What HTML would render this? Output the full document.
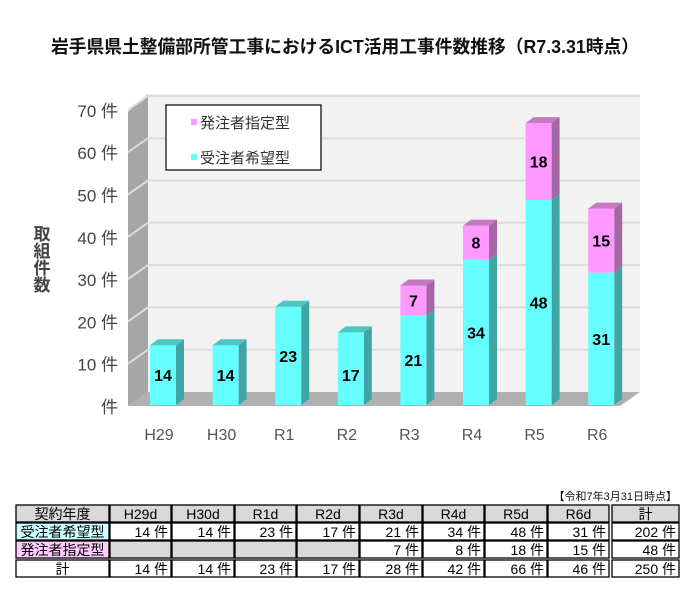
<!DOCTYPE html>
<html><head><meta charset="utf-8"><style>
body{margin:0;background:#fff;width:690px;height:614px;overflow:hidden;font-family:"Liberation Sans","Noto Sans CJK JP",sans-serif}
svg{display:block}
</style></head><body>
<svg id="chart" width="690" height="614" xmlns="http://www.w3.org/2000/svg" font-family="'Liberation Sans','Noto Sans CJK JP',sans-serif">
<text x="345" y="53" text-anchor="middle" font-size="18" font-weight="bold" textLength="588" lengthAdjust="spacingAndGlyphs" fill="#111">岩手県県土整備部所管工事におけるICT活用工事件数推移（R7.3.31時点）</text>
<g id="plot"></g>
<text x="677" y="500" text-anchor="end" font-size="11" fill="#111">【令和7年3月31日時点】</text>
<g id="table"></g>
</svg>
<script>
const categories=["H29","H30","R1","R2","R3","R4","R5","R6"];
const juchu=[14,14,23,17,21,34,48,31];
const hatchu=[0,0,0,0,7,8,18,15];
const yTicks=[0,10,20,30,40,50,60,70];
const NS="http://www.w3.org/2000/svg";
const plot=document.getElementById('plot');
function mk(tag,attrs,parent,txt){const e=document.createElementNS(NS,tag);for(const k in attrs)e.setAttribute(k,attrs[k]);if(txt!==undefined)e.textContent=txt;(parent||plot).appendChild(e);return e;}
const DX=20,DY=14,x0=128,x1=620,base=406,scale=4.23;
function yv(v){return base-v*scale;}
function xc(i){return 163+i*62.6;}
let w=mk('polygon',{points:`${x0+DX},${yv(70)-DY-2} ${x1+DX},${yv(70)-DY-2} ${x1+DX},${base-DY} ${x0+DX},${base-DY}`,fill:'#f2f2f2'});

let sw=mk('polygon',{points:`${x0},${yv(70)+2} ${x0+DX},${yv(70)-DY-2} ${x0+DX},${base-DY} ${x0},${base}`,fill:'#a6a6a6'});

let fl=mk('polygon',{points:`${x0},${base} ${x0+DX},${base-DY} ${x1+DX},${base-DY} ${x1},${base}`,fill:'#b0b0b0'});

yTicks.forEach(v=>{
  if(v>0){
    const g=mk('polyline',{points:`${x0},${yv(v)} ${x0+DX},${yv(v)-DY} ${x1+DX},${yv(v)-DY}`,fill:'none',stroke:'#dcdcdc','stroke-width':2});
    
  }
  const t=mk('text',{x:118,y:yv(v)+7,'text-anchor':'end','font-size':17,fill:'#444'},plot,(v>0?v+' ':'')+'件');
  
});
const yt=mk('text',{x:42,y:240,'text-anchor':'middle','font-size':17,'font-weight':'bold',fill:'#444'});

['取','組','件','数'].forEach((c,i)=>mk('tspan',{x:42,y:240+i*17},yt,c));
const BW=26,BD=8,BH=6,bb=405;
function seg(cx,v0,v1,front,side,top,name){
  const xl=cx-BW/2,xr=cx+BW/2,yt0=bb-v1*4.27,yb=bb-v0*4.27;
  const s=mk('polygon',{points:`${xr},${yb} ${xr+BD},${yb-BH} ${xr+BD},${yt0-BH} ${xr},${yt0}`,fill:side});
  
  const f=mk('rect',{x:xl,y:yt0,width:BW,height:yb-yt0,fill:front});
  
  if(top){const t=mk('polygon',{points:`${xl},${yt0} ${xl+BD},${yt0-BH} ${xr+BD},${yt0-BH} ${xr},${yt0}`,fill:top});
  }
  return [(yt0+yb)/2];
}
categories.forEach((c,i)=>{
  const cx=xc(i),a=juchu[i],b=hatchu[i];
  const m1=seg(cx,0,a,'#66ffff','#3fa5a5',b?null:'#4cc5c5','bar-juchu-'+c)[0];
  const l1=mk('text',{x:cx,y:(a<20?bb-30:m1)+6,'text-anchor':'middle','font-size':16,'font-weight':'bold',fill:'#000'},plot,a);
  
  if(b){const m2=seg(cx,a,a+b,'#ff99ff','#a466a4','#c27bc2','bar-hatchu-'+c)[0];
    const l2=mk('text',{x:cx,y:m2+6,'text-anchor':'middle','font-size':16,'font-weight':'bold',fill:'#000'},plot,b);
    }
  const xl=mk('text',{x:cx-4,y:440,'text-anchor':'middle','font-size':16,fill:'#555'},plot,c);
  
});
const lg=mk('g',{});
mk('rect',{x:166,y:105,width:155,height:65,fill:'#fff',stroke:'#000','stroke-width':1.2},lg);
mk('rect',{x:191,y:119,width:6,height:6,fill:'#ff99ff'},lg);
const le1=mk('text',{x:200,y:128,'font-size':15,fill:'#333'},lg,'発注者指定型');
mk('rect',{x:191,y:154,width:6,height:6,fill:'#66ffff'},lg);
const le2=mk('text',{x:200,y:163,'font-size':15,fill:'#333'},lg,'受注者希望型');
const tb=document.getElementById('table');
const cols=[16,110,172,235,297,360,423,485,548,612,680];
const rows=[[505,522],[523,540],[541,558],[560,577]];
const heads=["契約年度","H29d","H30d","R1d","R2d","R3d","R4d","R5d","R6d","計"];
function cell(r,c,fill,txt,align,nm){
  const x=cols[c],w=cols[c+1]-x-(c===8?3:1),y=rows[r][0],h=rows[r][1]-y;
  const re=mk('rect',{x:x,y:y,width:w,height:h,fill:fill,stroke:'#000','stroke-width':1.3},tb);
  
  if(txt!==''){const t=mk('text',{x:align==='end'?x+w-3:x+w/2,y:y+h-3,'text-anchor':align,'font-size':14,fill:'#000'},tb,txt);
  }
}
heads.forEach((h,c)=>cell(0,c,'#d9d9d9',h,'middle','header-cell'));
const sumJ=juchu.reduce((a,b)=>a+b,0),sumH=hatchu.reduce((a,b)=>a+b,0);
cell(1,0,'#ccffff','受注者希望型','middle','row-label-juchu');
cell(2,0,'#ffccff','発注者指定型','middle','row-label-hatchu');
cell(3,0,'#fff','計','middle','row-label-total');
categories.forEach((c,i)=>{
  cell(1,i+1,'#fff',juchu[i]+' 件','end','cell-juchu');
  cell(2,i+1,hatchu[i]?'#fff':'#d9d9d9',hatchu[i]?hatchu[i]+' 件':'','end','cell-hatchu');
  cell(3,i+1,'#fff',(juchu[i]+hatchu[i])+' 件','end','cell-total');
});
cell(1,9,'#fff',sumJ+' 件','end','cell-juchu-sum');
cell(2,9,'#fff',sumH+' 件','end','cell-hatchu-sum');
cell(3,9,'#fff',(sumJ+sumH)+' 件','end','cell-grand-total');
</script>
</body></html>
